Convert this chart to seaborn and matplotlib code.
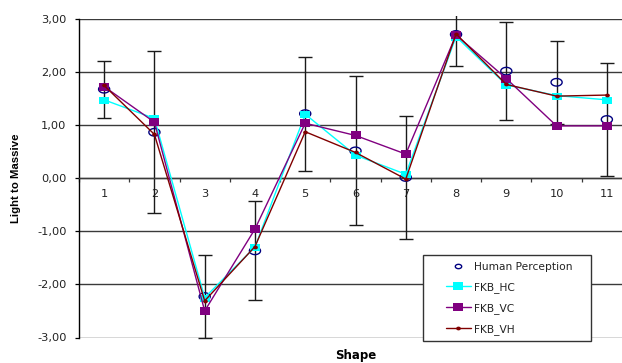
import matplotlib
matplotlib.use("Agg")
import numpy as np
import matplotlib.pyplot as plt
import seaborn as sns
import pandas as pd
from matplotlib.lines import Line2D
from matplotlib.patches import Rectangle
from matplotlib.path import Path
from matplotlib.ticker import FuncFormatter, FixedLocator

# Mean ratings per shape, light (-) to massive (+)
shapes = list(range(1, 12))
human = [1.67, 0.86, -2.23, -1.37, 1.21, 0.51, 0.01, 2.70, 2.01, 1.80, 1.10]
human_err = [0.54, 1.52, 0.78, 0.93, 1.07, 1.40, 1.16, 0.60, 0.92, 0.78, 1.07]
fkb_hc = [1.47, 1.12, -2.25, -1.30, 1.20, 0.43, 0.07, 2.66, 1.75, 1.55, 1.47]
fkb_vc = [1.72, 1.05, -2.50, -0.96, 1.03, 0.80, 0.45, 2.69, 1.87, 0.98, 0.98]
fkb_vh = [1.74, 0.82, -2.31, -1.29, 0.87, 0.48, -0.02, 2.71, 1.76, 1.54, 1.56]
y_ticks = [-3, -2, -1, 0, 1, 2, 3]

df = pd.DataFrame({"Shape": shapes, "Human Perception": human,
                   "FKB_HC": fkb_hc, "FKB_VC": fkb_vc, "FKB_VH": fkb_vh})

# slightly flattened marker shapes
t = np.linspace(0, 2 * np.pi, 49)
ellipse = Path(np.column_stack([np.cos(t), 0.68 * np.sin(t)]), closed=True)
flat_sq = Path([(-1, -0.7), (1, -0.7), (1, 0.7), (-1, 0.7), (-1, -0.7)], closed=True)
flat_dot = Path(np.column_stack([np.cos(t), 0.8 * np.sin(t)]), closed=True)

sns.set_theme(style="white")
plt.rcParams["font.family"] = ["DejaVu Sans"]

W, H = 622, 363
fig = plt.figure(figsize=(W / 100, H / 100), dpi=100)
ax = fig.add_axes([79 / W, 1 - 337.5 / H, (632 - 79) / W, (337.5 - 18.5) / H])

# horizontal grid
for v in y_ticks:
    ax.axhline(v, color="#3a3a3a", lw=1.0, zorder=1)

# error bars on the human ratings, allowed to poke slightly above the plot
eb = ax.errorbar(df["Shape"], df["Human Perception"], yerr=human_err, fmt="none",
                 ecolor="#1a1a1a", elinewidth=1.0, capsize=5, capthick=1.0, zorder=2)
clip = Rectangle((0, -0.01), 1, 1.017, transform=ax.transAxes, visible=False)
ax.add_patch(clip)
for art in list(eb.lines[1]) + list(eb.lines[2]):
    art.set_clip_path(clip)

sns.scatterplot(data=df, x="Shape", y="Human Perception", ax=ax, marker=ellipse,
                s=64, facecolors="none", edgecolor="#000080", linewidth=1.0,
                zorder=3, legend=False)
sns.lineplot(data=df, x="Shape", y="FKB_HC", ax=ax, color="#00FFFF", lw=1.0,
             marker=flat_sq, markersize=7.2, markeredgewidth=0, zorder=4, legend=False)
sns.lineplot(data=df, x="Shape", y="FKB_VC", ax=ax, color="#800080", lw=1.0,
             marker=flat_sq, markersize=7.6, markeredgewidth=0, zorder=5, legend=False)
sns.lineplot(data=df, x="Shape", y="FKB_VH", ax=ax, color="#800000", lw=1.0,
             marker=flat_dot, markersize=3.4, markeredgewidth=0, zorder=6, legend=False)

ax.set_xlim(0.5, 11.5)
ax.set_ylim(-3, 3)
ax.set_xlabel("")
ax.set_ylabel("")

for s in ["top", "right"]:
    ax.spines[s].set_visible(False)
ax.spines["left"].set_color("black")
ax.spines["left"].set_linewidth(1.0)
ax.spines["bottom"].set_position(("data", 0))
ax.spines["bottom"].set_color("#3a3a3a")
ax.spines["bottom"].set_linewidth(1.0)

ax.yaxis.set_major_locator(FixedLocator(y_ticks))
ax.yaxis.set_major_formatter(FuncFormatter(lambda v, p: f"{v:.2f}".replace(".", ",")))
ax.tick_params(axis="y", which="major", left=True, length=3, width=0.9,
               color="black", direction="out", pad=6, labelsize=8.2,
               labelcolor="#222222")

ax.xaxis.set_major_locator(FixedLocator(shapes))
ax.xaxis.set_minor_locator(FixedLocator([x + 0.5 for x in range(0, 11)]))
ax.tick_params(axis="x", which="major", bottom=True, length=0, pad=8,
               labelsize=8.2, labelcolor="#222222")
ax.tick_params(axis="x", which="minor", bottom=True, length=3, width=0.9,
               color="#3a3a3a", direction="out")

fig.text(16 / W, 1 - 178.5 / H, "Light to Massive", rotation=90, ha="center",
         va="center", fontsize=8.2, fontweight="bold", color="black",
         family=["Liberation Sans", "DejaVu Sans"])
fig.text(356 / W, 1 - 355.5 / H, "Shape", ha="center", va="center",
         fontsize=8.5, fontweight="bold", color="black")

# legend box
fig.patches.append(Rectangle((423 / W, 1 - 340.5 / H), (591 - 423) / W, (340.5 - 255) / H,
                             transform=fig.transFigure, facecolor="white",
                             edgecolor="#333333", lw=1.0, zorder=10))
handles = [
    Line2D([], [], ls="none", marker=ellipse, markersize=4.6, markerfacecolor="none",
           markeredgecolor="#000080", markeredgewidth=1.0),
    Line2D([], [], color="#00FFFF", lw=1.0, marker=flat_sq, markersize=7.6, markeredgewidth=0),
    Line2D([], [], color="#800080", lw=1.0, marker=flat_sq, markersize=7.6, markeredgewidth=0),
    Line2D([], [], color="#800000", lw=1.0, marker=flat_dot, markersize=3.4, markeredgewidth=0),
]
labels = ["Human Perception", "FKB_HC", "FKB_VC", "FKB_VH"]
leg = fig.legend(handles, labels, loc="upper left",
                 bbox_to_anchor=(445.5 / W, 1 - 261.5 / H), frameon=False,
                 fontsize=7.7, handlelength=2.4, handletextpad=0.25,
                 labelspacing=0.95, borderpad=0.0, borderaxespad=0)
leg.set_zorder(11)
for txt in leg.get_texts():
    txt.set_color("#222222")

fig.savefig("out.png", dpi=100)
